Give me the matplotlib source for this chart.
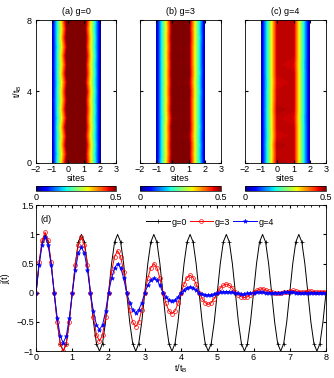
import numpy as np
import matplotlib
matplotlib.use('Agg')
import matplotlib.pyplot as plt
from matplotlib.cm import ScalarMappable
from matplotlib.colors import Normalize

plt.rcParams['font.family'] = ['Liberation Sans', 'DejaVu Sans']
plt.rcParams['font.size'] = 6.5
plt.rcParams['xtick.direction'] = 'in'
plt.rcParams['ytick.direction'] = 'in'
plt.rcParams['xtick.major.size'] = 2.5
plt.rcParams['ytick.major.size'] = 2.5
plt.rcParams['xtick.minor.size'] = 1.5
plt.rcParams['axes.linewidth'] = 0.6

# top panels: site density vs time
sites = [-1, 0, 1, 2]
dens_t = [0, 0.5, 1, 1.5, 2, 2.5, 3, 3.5, 4, 4.5, 5, 5.5, 6, 6.5, 7, 7.5, 8]
dens_a = [[0.00, 0.56, 0.54, 0.00], [0.01, 0.51, 0.52, 0.00],
          [0.00, 0.56, 0.55, 0.00], [0.01, 0.52, 0.51, 0.00],
          [0.00, 0.57, 0.54, 0.00], [0.01, 0.51, 0.52, 0.00],
          [0.00, 0.56, 0.54, 0.00], [0.01, 0.52, 0.52, 0.00],
          [0.00, 0.55, 0.55, 0.00], [0.01, 0.51, 0.51, 0.00],
          [0.00, 0.56, 0.54, 0.00], [0.01, 0.52, 0.52, 0.00],
          [0.00, 0.56, 0.55, 0.00], [0.01, 0.51, 0.52, 0.00],
          [0.00, 0.56, 0.54, 0.00], [0.01, 0.52, 0.51, 0.00],
          [0.00, 0.56, 0.54, 0.00]]
dens_b = [[0.00, 0.52, 0.51, 0.00], [0.00, 0.50, 0.50, 0.00],
          [0.00, 0.51, 0.51, 0.00], [0.00, 0.50, 0.49, 0.00],
          [0.00, 0.51, 0.51, 0.00], [0.00, 0.49, 0.50, 0.00],
          [0.00, 0.51, 0.50, 0.00], [0.00, 0.50, 0.50, 0.00],
          [0.00, 0.51, 0.51, 0.00], [0.00, 0.50, 0.49, 0.00],
          [0.00, 0.51, 0.51, 0.00], [0.00, 0.50, 0.50, 0.00],
          [0.00, 0.51, 0.50, 0.00], [0.00, 0.50, 0.50, 0.00],
          [0.00, 0.51, 0.51, 0.00], [0.00, 0.50, 0.50, 0.00],
          [0.00, 0.51, 0.51, 0.00]]
dens_c = [[0.00, 0.48, 0.47, 0.00], [0.00, 0.47, 0.47, 0.00],
          [0.00, 0.48, 0.47, 0.00], [0.00, 0.46, 0.47, 0.00],
          [0.00, 0.47, 0.47, 0.00], [0.00, 0.47, 0.46, 0.00],
          [0.00, 0.48, 0.47, 0.00], [0.00, 0.47, 0.47, 0.00],
          [0.00, 0.47, 0.47, 0.00], [0.00, 0.46, 0.47, 0.00],
          [0.00, 0.47, 0.47, 0.00], [0.00, 0.47, 0.46, 0.00],
          [0.00, 0.47, 0.47, 0.00], [0.00, 0.47, 0.47, 0.00],
          [0.00, 0.47, 0.47, 0.00], [0.00, 0.47, 0.47, 0.00],
          [0.00, 0.47, 0.47, 0.00]]
titles = ['(a) g=0', '(b) g=3', '(c) g=4']

# bottom panel: current j(t), sampled every 1/12 t_B
t = np.linspace(0, 8, 97)
j_g0 = [0, 0.5, 0.87, 1, 0.87, 0.5, 0, -0.5, -0.87, -1, -0.87, -0.5,
        0, 0.5, 0.87, 1, 0.87, 0.5, 0, -0.5, -0.87, -1, -0.87, -0.5,
        0, 0.5, 0.87, 1, 0.87, 0.5, 0, -0.5, -0.87, -1, -0.87, -0.5,
        0, 0.5, 0.87, 1, 0.87, 0.5, 0, -0.5, -0.87, -1, -0.87, -0.5,
        0, 0.5, 0.87, 1, 0.87, 0.5, 0, -0.5, -0.87, -1, -0.87, -0.5,
        0, 0.5, 0.87, 1, 0.87, 0.5, 0, -0.5, -0.87, -1, -0.87, -0.5,
        0, 0.5, 0.87, 1, 0.87, 0.5, 0, -0.5, -0.87, -1, -0.87, -0.5,
        0, 0.5, 0.87, 1, 0.87, 0.5, 0, -0.5, -0.87, -1, -0.87, -0.5,
        0]
j_g3 = [0.00, 0.52, 0.90, 1.04, 0.90, 0.52, 0.00, -0.50, -0.87, -1.00, -0.87, -0.50,
        0.00, 0.48, 0.82, 0.95, 0.82, 0.48, 0.00, -0.42, -0.72, -0.83, -0.72, -0.42,
        0.00, 0.36, 0.62, 0.72, 0.62, 0.36, 0.00, -0.29, -0.50, -0.58, -0.50, -0.29,
        0.00, 0.25, 0.43, 0.50, 0.43, 0.25, 0.00, -0.18, -0.31, -0.36, -0.31, -0.18,
        0.00, 0.15, 0.26, 0.30, 0.26, 0.15, 0.00, -0.10, -0.17, -0.20, -0.17, -0.10,
        0.00, 0.08, 0.13, 0.15, 0.13, 0.08, 0.01, -0.04, -0.07, -0.08, -0.07, -0.03,
        0.01, 0.04, 0.06, 0.07, 0.05, 0.03, 0.01, 0.00, -0.01, 0.00, 0.01, 0.02,
        0.03, 0.04, 0.03, 0.02, 0.01, 0.02, 0.03, 0.03, 0.02, 0.01, 0.02, 0.02,
        0.02]
j_g4 = [0.00, 0.48, 0.82, 0.95, 0.82, 0.48, 0.00, -0.43, -0.74, -0.86, -0.74, -0.43,
        0.00, 0.39, 0.68, 0.78, 0.68, 0.39, 0.00, -0.32, -0.55, -0.63, -0.55, -0.32,
        0.00, 0.25, 0.43, 0.50, 0.43, 0.25, 0.00, -0.17, -0.29, -0.34, -0.29, -0.17,
        0.00, 0.13, 0.22, 0.25, 0.22, 0.13, 0.00, -0.07, -0.12, -0.14, -0.12, -0.07,
        0.00, 0.05, 0.09, 0.10, 0.09, 0.05, 0.00, -0.02, -0.03, -0.04, -0.03, -0.02,
        0.00, 0.01, 0.02, 0.02, 0.02, 0.01, 0.00, -0.01, -0.02, -0.02, -0.01, 0.00,
        0.00, 0.01, 0.01, 0.01, 0.00, 0.00, 0.00, 0.00, 0.00, 0.00, 0.01, 0.01,
        0.01, 0.01, 0.00, 0.00, 0.00, 0.00, 0.00, 0.00, 0.00, 0.00, 0.00, 0.00,
        0.00]

fig = plt.figure(figsize=(3.34, 3.78), dpi=100)

lefts = [0.108, 0.419, 0.733]
widths = [0.240, 0.243, 0.243]
levels = np.linspace(0, 0.5, 80)
for i, dens in enumerate([dens_a, dens_b, dens_c]):
    ax = fig.add_axes([lefts[i], 0.569, widths[i], 0.378])
    ax.contourf(sites, dens_t, np.array(dens), levels=levels,
                cmap='jet', extend='max')
    ax.set_xlim(-2, 3)
    ax.set_ylim(0, 8)
    ax.set_xticks([-2, -1, 0, 1, 2, 3])
    ax.set_xticklabels(['\u22122', '\u22121', '0', '1', '2', '3'])
    ax.set_yticks([0, 4, 8])
    ax.tick_params(top=True, right=True, length=2)
    ax.tick_params(axis='x', pad=1.5)
    ax.tick_params(axis='y', pad=3)
    if i == 0:
        ax.set_ylabel('t/t$_\\mathregular{B}$', labelpad=2)
    else:
        ax.set_yticklabels([])
    ax.set_xlabel('sites', labelpad=0)
    ax.set_title(titles[i], fontsize=6.5, pad=4)
    cax = fig.add_axes([lefts[i], 0.495, widths[i], 0.012])
    sm = ScalarMappable(norm=Normalize(0, 0.5), cmap='jet')
    cb = fig.colorbar(sm, cax=cax, orientation='horizontal', ticks=[0, 0.5])
    cb.ax.set_xticklabels(['0', '0.5'])
    cb.ax.tick_params(length=0, pad=1.5)
    cb.outline.set_linewidth(0.5)

ax = fig.add_axes([0.108, 0.071, 0.868, 0.386])
ax.plot(t, j_g0, color='black', lw=0.7, marker='+', ms=3, mew=0.5,
        markevery=2, label='g=0')
ax.plot(t, j_g3, color='red', lw=0.7, marker='o', ms=2.8, mew=0.5,
        mfc='none', label='g=3')
ax.plot(t, j_g4, color='blue', lw=0.7, marker='*', ms=3.2, mew=0.4, label='g=4')
ax.set_xlim(0, 8)
ax.set_ylim(-1, 1.5)
ax.set_xticks(range(9))
ax.set_yticks([-1, -0.5, 0, 0.5, 1, 1.5])
ax.set_yticklabels(['\u22121', '\u22120.5', '0', '0.5', '1', '1.5'])
ax.set_xticks(np.arange(0, 8.01, 0.2), minor=True)
ax.tick_params(top=True, right=True, pad=1.5, length=2.5)
ax.tick_params(which='minor', top=True, bottom=False, length=1.5)
ax.set_xlabel('t/t$_\\mathregular{B}$', labelpad=0)
ax.set_ylabel('j(t)', labelpad=4)
ax.text(0.015, 0.9, '(d)', transform=ax.transAxes, va='center')
ax.legend(loc='center', bbox_to_anchor=(0.6, 0.885), ncol=3, frameon=False,
          handlelength=2.6, columnspacing=0.3, handletextpad=0.2, borderpad=0)

fig.savefig('out.png', dpi=100)
